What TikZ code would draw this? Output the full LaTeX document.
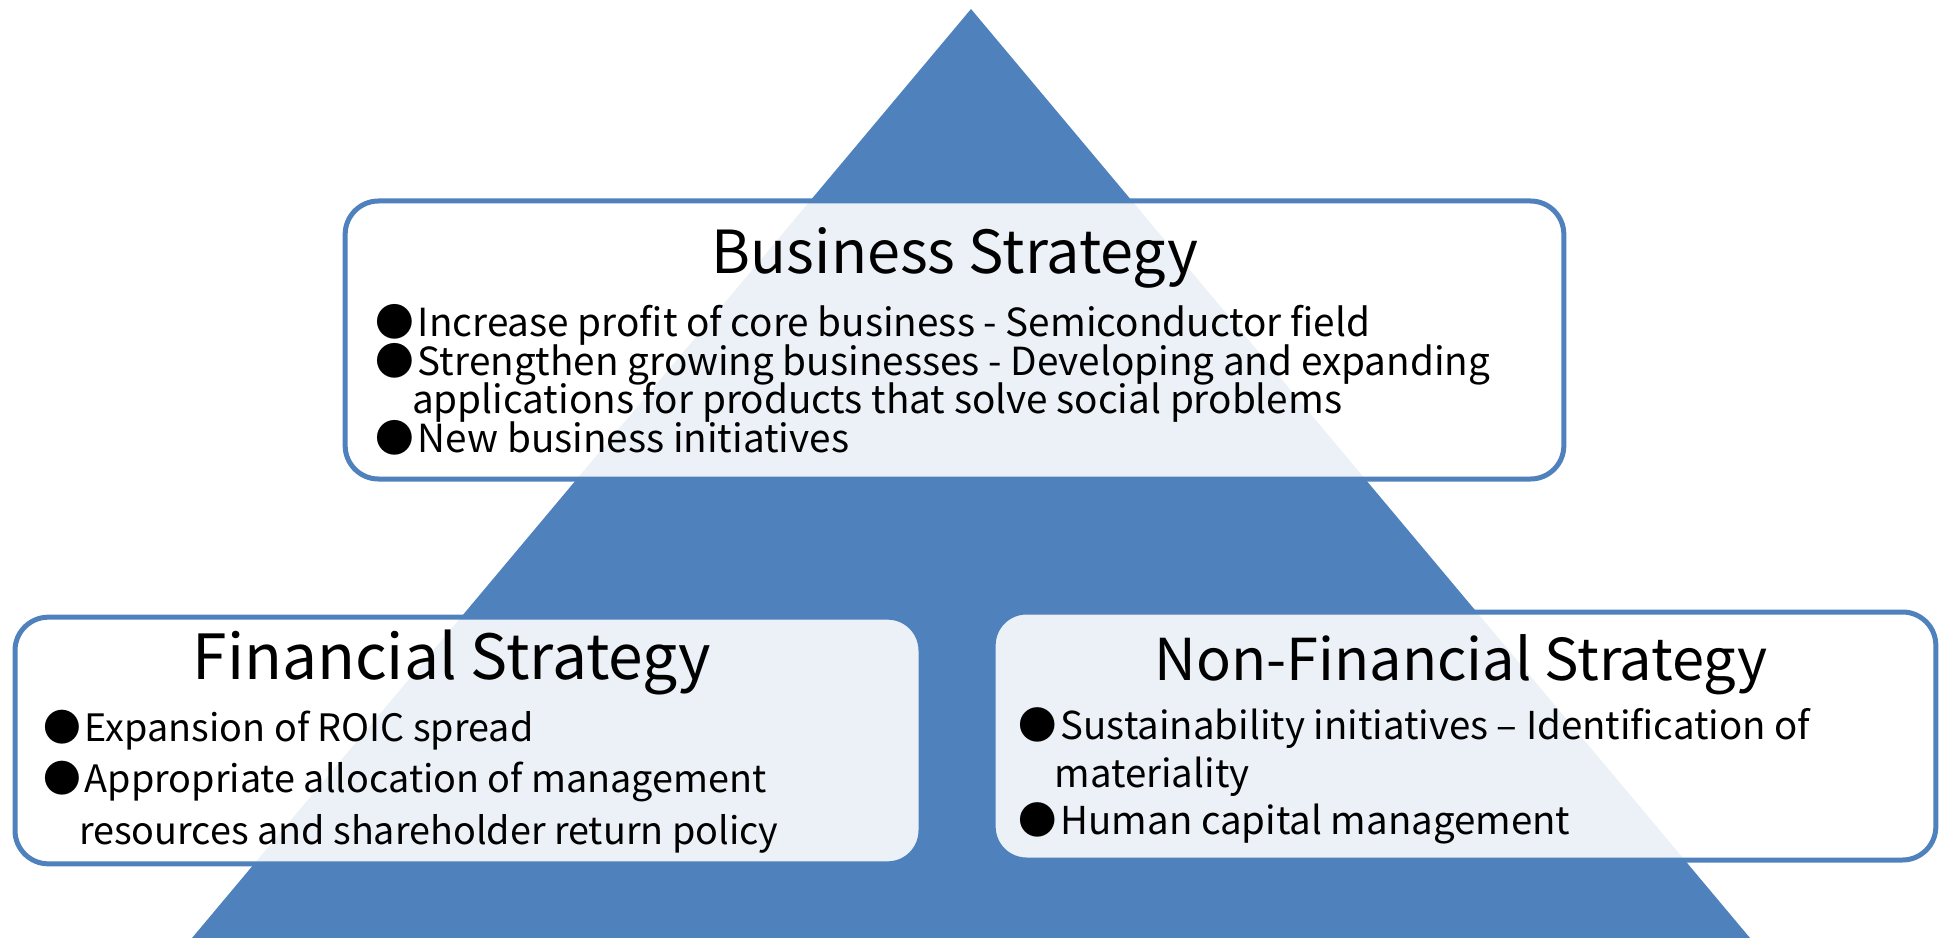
\documentclass[tikz,border=0pt]{standalone}
\usepackage{fontspec}
\setmainfont{Noto Sans CJK JP}
\usetikzlibrary{positioning}
\definecolor{ink}{HTML}{000000}
\definecolor{pyr}{HTML}{4F81BD}
\newcommand{\psfont}[2]{\fontsize{#1}{#2}\selectfont\lineskiplimit=-20pt\relax}
\tikzset{
  every node/.style = {text=ink},
  psbox/.style   = {draw=pyr, line width=3.75pt, fill=white, fill opacity=0.89,
                    rounded corners=25pt, inner sep=0pt},
  pstitle/.style = {font=\fontsize{44.5}{52}\selectfont, inner sep=0pt},
  psbody/.style  = {anchor=west, align=left, inner sep=0pt, font=\psfont{29}{28.9}},
}
\newcommand{\psdot}{●\hspace{3pt}}
\newcommand{\pshang}{\hspace*{0.95em}}

\begin{document}
\begin{tikzpicture}[x=0.75pt, y=-0.75pt]
\useasboundingbox (0,0) rectangle (1946,938);

% the pyramid behind the three boxes
\fill[pyr] (971,9) -- (1750,938) -- (192,938) -- cycle;

\node[psbox, minimum width=914pt, minimum height=208.5pt] (biz) at (954.5,340) {};
\node[psbox, minimum width=679.5pt, minimum height=185pt] (fin) at (468,740.5) {};
\node[psbox, minimum width=707pt, minimum height=186pt] (nonfin) at (1464.5,736) {};

\node[pstitle] (biztitle) at (955,258) {Business Strategy};
\node[psbody] (bizbody) at (375,380)
  {\psdot Increase profit of core business - Semiconductor field\\
   \psdot Strengthen growing businesses - Developing and expanding\\
   \pshang applications for products that solve social problems\\
   \psdot New business initiatives};

\node[pstitle, font=\fontsize{46.7}{54}\selectfont] (fintitle) at (452,662) {Financial Strategy};
\node[psbody, font=\psfont{28.3}{38.6}] (finbody) at (43,781.5)
  {\psdot Expansion of ROIC spread\\
   \psdot Appropriate allocation of management\\
   \pshang resources and shareholder return policy};

\node[pstitle, font=\fontsize{43.3}{50}\selectfont] (nftitle) at (1461,665) {Non-Financial Strategy};
\node[psbody, font=\psfont{28.8}{35.6}] (nfbody) at (1018,776)
  {\psdot Sustainability initiatives – Identification of\\
   \pshang materiality\\
   \psdot Human capital management};
\end{tikzpicture}
\end{document}
